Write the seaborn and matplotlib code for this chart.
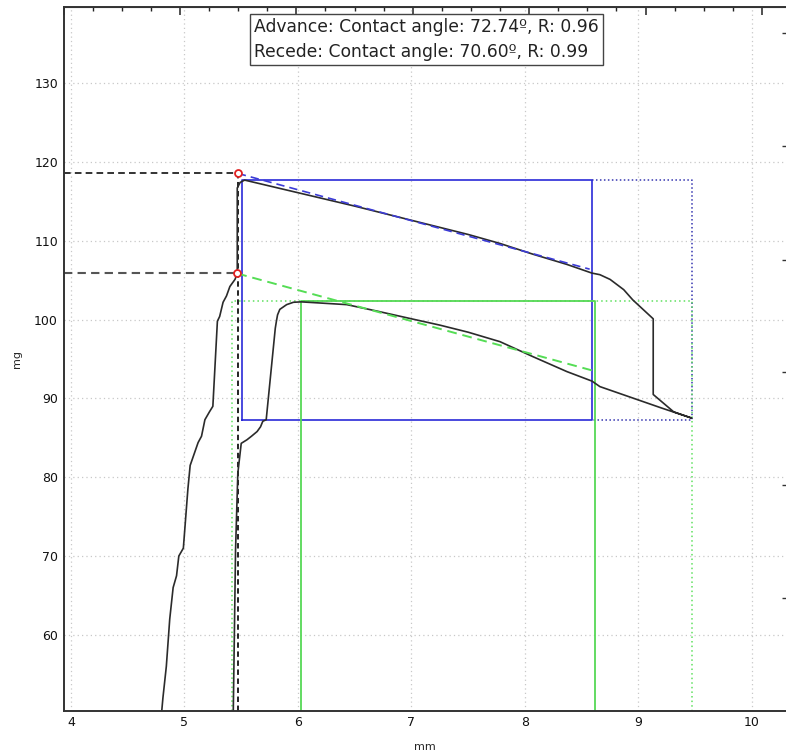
import matplotlib
matplotlib.use("Agg")
import matplotlib.pyplot as plt
from matplotlib.ticker import MultipleLocator, NullFormatter
import pandas as pd
import seaborn as sns

# Advancing run (mm, mg): climbs up at the left, then runs along the top branch
adv_x = [4.80, 4.81, 4.84, 4.87, 4.90, 4.93, 4.95, 4.99, 5.03, 5.05, 5.12, 5.15, 5.18, 5.22,
         5.25, 5.29, 5.31, 5.34, 5.37, 5.40, 5.445, 5.465, 5.465, 5.49, 5.53, 6.0, 6.5, 7.0,
         7.5, 7.78, 8.07, 8.37, 8.59, 8.66, 8.75, 8.87, 8.95, 9.04, 9.13, 9.13, 9.22, 9.31, 9.47]
adv_y = [50.4, 52.0, 56.0, 62.0, 66.0, 67.5, 70.0, 71.0, 78.5, 81.5, 84.4, 85.2, 87.3, 88.3,
         89.0, 99.8, 100.4, 102.2, 103.0, 104.2, 105.1, 105.85, 116.7, 117.4, 117.7, 116.1,
         114.4, 112.6, 110.8, 109.66, 108.3, 107.0, 105.9, 105.7, 105.1, 103.8, 102.5, 101.3,
         100.1, 90.5, 89.4, 88.3, 87.5]

# Receding run: back along the lower branch and down at the left
rec_x = [9.47, 9.2, 8.95, 8.66, 8.59, 8.37, 8.07, 7.78, 7.5, 7.25, 7.0, 6.69, 6.43, 6.03,
         5.96, 5.90, 5.84, 5.82, 5.81, 5.80, 5.72, 5.69, 5.67, 5.64, 5.59, 5.55, 5.50, 5.47,
         5.45, 5.43]
rec_y = [87.5, 88.8, 90.05, 91.5, 92.2, 93.4, 95.3, 97.2, 98.4, 99.3, 100.1, 101.1, 101.9,
         102.25, 102.2, 101.9, 101.3, 100.6, 99.8, 98.9, 87.3, 87.1, 86.4, 85.8, 85.2, 84.75,
         84.3, 80.5, 70.8, 50.4]

# Linear fits (start point on the contact line, end point)
adv_fit_x = [5.47, 8.57]
adv_fit_y = [118.55, 106.4]
rec_fit_x = [5.465, 8.63]
rec_fit_y = [105.85, 93.4]

# Fit windows: x range and y range
adv_box_x = [5.51, 8.59]
adv_box_y = [87.3, 117.66]
adv_box_outer_x = [5.51, 9.47]
rec_box_x = [6.03, 8.62]
rec_box_outer_x = [5.415, 9.47]
rec_box_top = 102.3

legend_lines = ["Advance: Contact angle: 72.74º, R: 0.96",
                "Recede: Contact angle: 70.60º, R: 0.99"]

# unlabelled ticks of the cut-off right-hand scale
right_ticks = [136.3, 122.0, 107.6, 93.4, 79.0, 64.7]

xlim = (3.934, 10.30)
ylim = (50.38, 139.7)

sns.set_style("white")
plt.rcParams["font.family"] = ["DejaVu Sans"]

fig = plt.figure(figsize=(7.86, 7.53), dpi=100)
ax = fig.add_axes([63.5 / 786, 42.3 / 753, (786 - 63.5) / 786, 704 / 753])

# windows first so the curves sit on top
bx0, bx1 = adv_box_outer_x
by0, by1 = adv_box_y
ax.plot([adv_box_x[1], bx1, bx1, adv_box_x[1]], [by1, by1, by0, by0],
        color="#3535b0", lw=1.1, ls=(0, (1, 1.6)))
ax.plot([adv_box_x[0], adv_box_x[1], adv_box_x[1], adv_box_x[0], adv_box_x[0]],
        [by0, by0, by1, by1, by0], color="#2a2ad8", lw=1.2)

gx0, gx1 = rec_box_outer_x
ax.plot([gx0, gx0, gx1, gx1], [ylim[0], rec_box_top, rec_box_top, ylim[0]],
        color="#5fe05f", lw=1.1, ls=(0, (1, 2)))
ax.plot([rec_box_x[0], rec_box_x[0], rec_box_x[1], rec_box_x[1]],
        [ylim[0], rec_box_top, rec_box_top, ylim[0]], color="#55d855", lw=1.3)

# guide lines from the contact points
ax.plot([xlim[0], adv_fit_x[0]], [adv_fit_y[0]] * 2, color="#111111", lw=1.2, ls=(0, (4, 2.5)))
ax.plot([xlim[0], rec_fit_x[0]], [rec_fit_y[0]] * 2, color="#555555", lw=1.5, ls=(0, (4, 2.5)))
ax.plot([adv_fit_x[0]] * 2, [ylim[0], adv_fit_y[0]], color="#111111", lw=1.3, ls=(0, (3, 2)))

# measured curve
curve = pd.DataFrame({"mm": adv_x + rec_x, "mg": adv_y + rec_y})
sns.lineplot(data=curve, x="mm", y="mg", sort=False, estimator=None,
             color="#2b2b2b", lw=1.2, ax=ax)

# fits
ax.plot(adv_fit_x, adv_fit_y, color="#3b3bd6", lw=1.2, ls=(0, (5, 3)))
ax.plot(rec_fit_x, rec_fit_y, color="#55dd55", lw=1.4, ls=(0, (5, 3)))

ax.plot([adv_fit_x[0], rec_fit_x[0]], [adv_fit_y[0], rec_fit_y[0]], ls="none",
        marker="o", ms=5, mfc="white", mec="#e02020", mew=1.3)

ax.set_xlim(*xlim)
ax.set_ylim(*ylim)
ax.set_xticks([4, 5, 6, 7, 8, 9, 10])
ax.set_yticks([60, 70, 80, 90, 100, 110, 120, 130])
ax.xaxis.set_minor_locator(MultipleLocator(0.2))
ax.yaxis.set_minor_locator(MultipleLocator(2))
ax.tick_params(which="major", direction="in", length=6, width=1.1, color="#222222",
               labelsize=9, pad=4, labelcolor="#111111")
ax.tick_params(which="minor", direction="in", length=3, width=1.0, color="#222222")
ax.grid(True, which="major", color="#c8c8c8", lw=0.9, ls=(0, (1, 2.5)))
ax.set_xlabel("mm", fontsize=8, labelpad=9)
ax.set_ylabel("mg", fontsize=8, labelpad=9)

for side in ["left", "bottom", "top"]:
    ax.spines[side].set_color("#333333")
    ax.spines[side].set_linewidth(1.4)
ax.spines["right"].set_visible(False)

# top scale has its own spacing, ticks only
top = ax.secondary_xaxis("top", functions=(lambda x: (x - 4.96) / 1.0256,
                                           lambda u: u * 1.0256 + 4.96))
top.set_xticks([-1, 0, 1, 2, 3, 4, 5])
top.xaxis.set_minor_locator(MultipleLocator(0.25))
top.xaxis.set_major_formatter(NullFormatter())
top.tick_params(which="major", direction="in", length=6, width=1.1, color="#222222")
top.tick_params(which="minor", direction="in", length=3, width=1.0, color="#222222")
top.spines["top"].set_color("#333333")

# right side: short tick marks only
right = ax.secondary_yaxis("right")
right.set_yticks(right_ticks)
right.yaxis.set_major_formatter(NullFormatter())
right.tick_params(direction="in", length=3, width=1.0, color="#333333")
right.spines["right"].set_visible(False)

fig.text(254 / 786, 1 - 18 / 753, "\n".join(legend_lines), ha="left", va="top",
         fontsize=12.3, color="#222222", linespacing=1.5, multialignment="left",
         bbox=dict(boxstyle="square,pad=0.25", fc="white", ec="#444444", lw=1.0))

fig.savefig("out.png", dpi=100)
